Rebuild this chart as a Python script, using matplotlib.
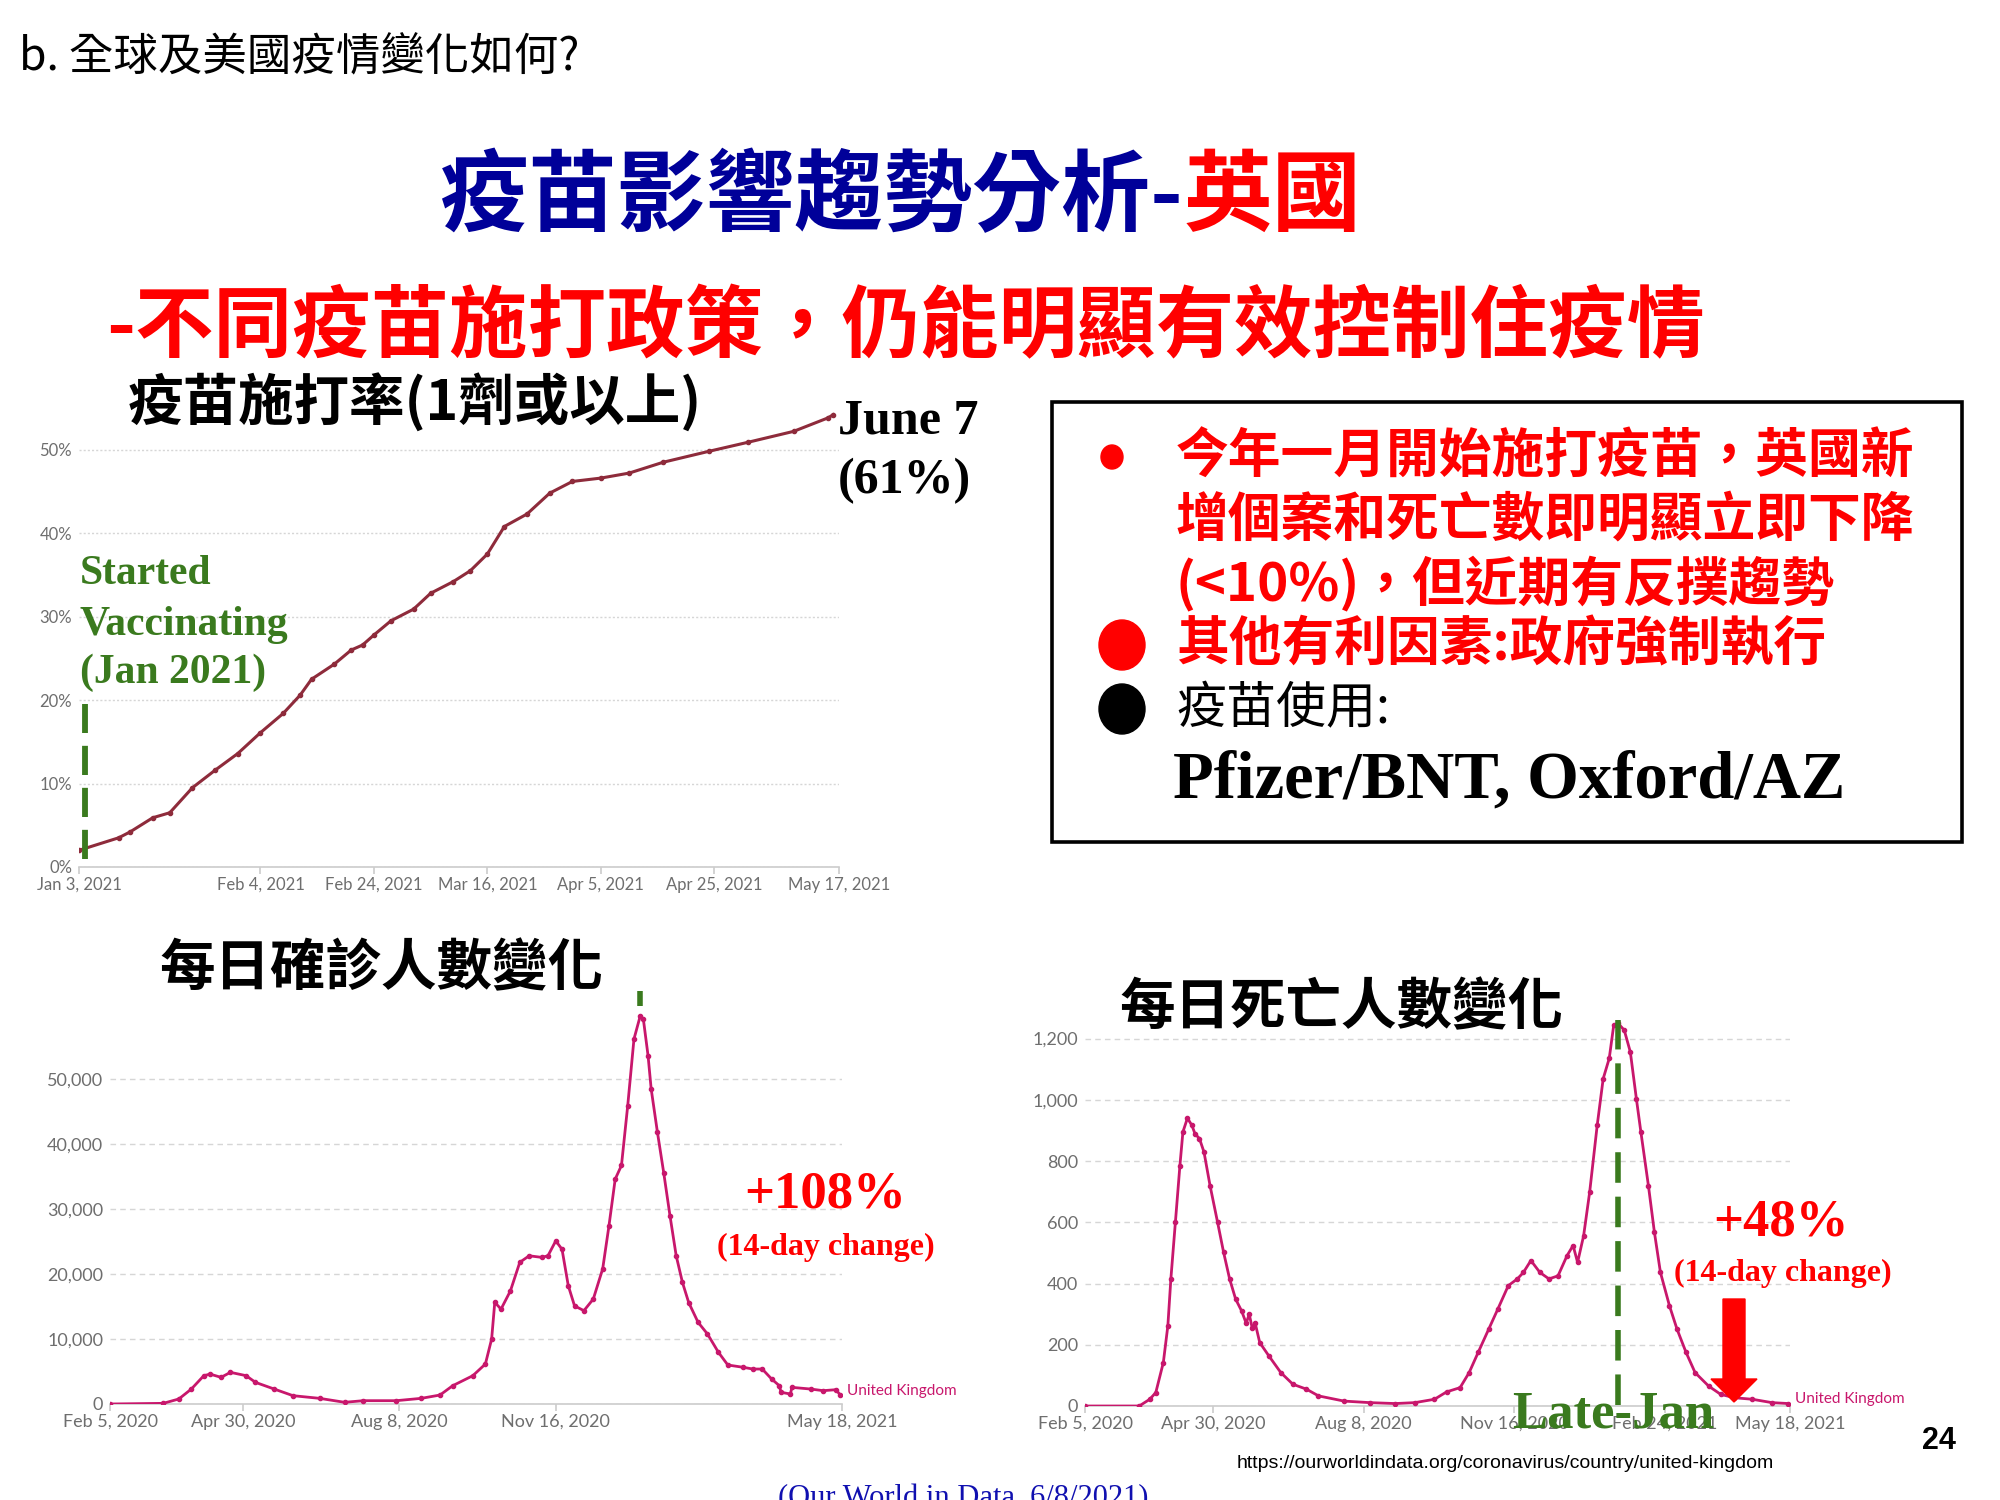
import numpy as np
import matplotlib
matplotlib.use('Agg')
import matplotlib.pyplot as plt
from matplotlib.patches import Rectangle, Ellipse, FancyArrow

plt.rcParams['font.family'] = ['Lato', 'DejaVu Sans']

CJK = ['Noto Sans CJK TC', 'DejaVu Sans']
SERIF = ['Liberation Serif', 'DejaVu Serif']
GREEN = '#3A7A1E'
PINK = '#C8176C'
WINE = '#8E2B3B'
GREY = '#6E6E6E'

# ---- vaccination share, 1+ dose (%) ----
vac_dates = ['2021-01-03', '2021-01-10', '2021-01-12', '2021-01-16', '2021-01-19',
             '2021-01-23', '2021-01-27', '2021-01-31', '2021-02-04', '2021-02-08',
             '2021-02-11', '2021-02-13', '2021-02-17', '2021-02-20', '2021-02-22',
             '2021-02-24', '2021-02-27', '2021-03-03', '2021-03-06', '2021-03-10',
             '2021-03-13', '2021-03-16', '2021-03-19', '2021-03-23', '2021-03-27',
             '2021-03-31', '2021-04-05', '2021-04-10', '2021-04-16', '2021-04-24',
             '2021-05-01', '2021-05-09', '2021-05-15', '2021-05-16']
vac_pct = [2.0, 3.5, 4.2, 5.9, 6.5,
           9.5, 11.6, 13.6, 16.1, 18.4,
           20.6, 22.5, 24.3, 26.0, 26.6,
           27.8, 29.5, 30.9, 32.8, 34.2,
           35.5, 37.5, 40.8, 42.3, 44.8,
           46.2, 46.6, 47.2, 48.5, 49.8,
           50.9, 52.2, 53.8, 54.2]
vac_ticks = ['2021-01-03', '2021-02-04', '2021-02-24', '2021-03-16',
             '2021-04-05', '2021-04-25', '2021-05-17']
vac_tick_labels = ['Jan 3, 2021', 'Feb 4, 2021', 'Feb 24, 2021', 'Mar 16, 2021',
                   'Apr 5, 2021', 'Apr 25, 2021', 'May 17, 2021']

# ---- daily cases (7-day avg), days after 2020-02-05 ----
case_day = [0, 34, 44, 52, 60, 64, 71, 77, 87, 93,
            105, 117, 134, 150, 162, 183, 199, 211, 219, 232,
            240, 244, 246, 250, 256, 262, 268, 276, 280, 285,
            289, 293, 297, 303, 309, 315, 319, 323, 327, 331,
            335, 339, 341, 344, 346, 350, 354, 358, 362, 366,
            370, 376, 382, 389, 395, 405, 411, 417, 423, 428,
            429, 435, 436, 448, 456, 464, 467]
case_val = [0, 100, 770, 2300, 4360, 4600, 4100, 4870, 4360, 3330,
            2300, 1280, 870, 260, 510, 510, 870, 1380, 2800, 4360,
            6150, 10000, 15640, 14600, 17400, 21800, 22800, 22560, 22800, 25100,
            23800, 18200, 15100, 14360, 16150, 20800, 27400, 34600, 36700, 45900,
            56150, 59700, 59200, 53600, 48460, 41800, 35600, 29000, 22800, 18700,
            15600, 12560, 10770, 7950, 6000, 5640, 5380, 5380, 3850, 2800,
            1800, 1540, 2560, 2300, 2050, 2200, 1380]

# ---- daily deaths (7-day avg), days after 2020-02-05 ----
death_day = [0, 36, 43, 47, 52, 55, 57, 60, 63, 65,
             68, 71, 73, 76, 79, 83, 88, 92, 96, 100,
             104, 107, 109, 111, 113, 116, 122, 130, 138, 147,
             155, 172, 189, 206, 219, 232, 240, 249, 255, 261,
             268, 274, 281, 287, 291, 296, 302, 308, 314, 320,
             324, 327, 331, 335, 340, 344, 348, 351, 354, 358,
             362, 366, 369, 374, 378, 382, 388, 393, 399, 405,
             414, 422, 431, 443, 456, 467]
death_val = [0, 0, 22, 44, 142, 262, 415, 600, 785, 895,
             940, 916, 889, 873, 829, 720, 600, 502, 415, 349,
             310, 270, 300, 255, 270, 207, 164, 109, 71, 55,
             33, 16, 11, 8, 11, 22, 46, 60, 109, 175,
             251, 316, 393, 415, 436, 475, 436, 415, 425, 491,
             524, 469, 556, 698, 916, 1069, 1135, 1244, 1249, 1227,
             1156, 1004, 895, 720, 567, 436, 327, 251, 175, 109,
             65, 38, 27, 22, 11, 8]

start_2020 = np.datetime64('2020-02-05')
case_ticks = ['2020-02-05', '2020-04-30', '2020-08-08', '2020-11-16', '2021-05-18']
case_tick_labels = ['Feb 5, 2020', 'Apr 30, 2020', 'Aug 8, 2020', 'Nov 16, 2020', 'May 18, 2021']
death_ticks = ['2020-02-05', '2020-04-30', '2020-08-08', '2020-11-16', '2021-02-24', '2021-05-18']
death_tick_labels = ['Feb 5, 2020', 'Apr 30, 2020', 'Aug 8, 2020', 'Nov 16, 2020',
                     'Feb 24, 2021', 'May 18, 2021']

W, H = 2000, 1500
fig = plt.figure(figsize=(20, 15), dpi=100)


def fx(x):
    return x / W


def fy(y):
    return 1 - y / H


def style_axes(ax, ylim, yticks, ylabels, xticks, xlabels, fs, grid_ls):
    ax.set_ylim(*ylim)
    ax.set_yticks(yticks)
    ax.set_yticklabels(ylabels)
    ax.set_xticks(np.array(xticks, dtype='datetime64[D]'))
    ax.set_xticklabels(xlabels)
    for s in ['top', 'right', 'left']:
        ax.spines[s].set_visible(False)
    ax.spines['bottom'].set_color('#cccccc')
    ax.spines['bottom'].set_linewidth(1.2)
    ax.grid(axis='y', color='#d6d6d6', linestyle=grid_ls, linewidth=1)
    ax.set_axisbelow(True)
    ax.tick_params(axis='y', length=0, pad=5, labelsize=fs, labelcolor=GREY)
    ax.tick_params(axis='x', length=5, width=1.2, color='#cccccc', pad=2,
                   labelsize=fs, labelcolor=GREY)
    ax.patch.set_alpha(0)


# ---------------- chart 1: vaccination ----------------
ax1 = fig.add_axes([fx(79), fy(867), 760 / W, 459 / H])
vd = np.array(vac_dates, dtype='datetime64[D]')
ax1.plot(vd, vac_pct, color=WINE, lw=2.2, marker='o', ms=3, zorder=3)
ax1.set_xlim(np.datetime64('2021-01-03'), np.datetime64('2021-05-17'))
style_axes(ax1, (0, 55), [0, 10, 20, 30, 40, 50], ['0%', '10%', '20%', '30%', '40%', '50%'],
           vac_ticks, vac_tick_labels, 12, (0, (1.5, 1.5)))
ax1.vlines(np.datetime64('2021-01-04'), 1.0, 19.5, colors=GREEN, lw=4.2,
           linestyles=(0, (5, 2.2)), zorder=4)

# ---------------- chart 2: cases ----------------
ax2 = fig.add_axes([fx(110), fy(1404), 732 / W, 403 / H])
cd = start_2020 + np.array(case_day)
ax2.plot(cd, case_val, color=PINK, lw=2, marker='o', ms=3, zorder=3)
ax2.set_xlim(start_2020, np.datetime64('2021-05-18'))
style_axes(ax2, (0, 62000), [0, 10000, 20000, 30000, 40000, 50000],
           ['0', '10,000', '20,000', '30,000', '40,000', '50,000'],
           case_ticks, case_tick_labels, 13, (0, (4, 3)))
ax2.annotate('United Kingdom', xy=(cd[-1], case_val[-1]), xytext=(5, 3),
             textcoords='offset points', color=PINK, fontsize=11, va='center',
             annotation_clip=False)
ax2.vlines(cd[int(np.argmax(case_val))], 61300, 63600, colors=GREEN, lw=4,
           clip_on=False, zorder=4)

# ---------------- chart 3: deaths ----------------
ax3 = fig.add_axes([fx(1085), fy(1406), 705 / W, 392 / H])
dd = start_2020 + np.array(death_day)
ax3.plot(dd, death_val, color=PINK, lw=2, marker='o', ms=3, zorder=3)
ax3.set_xlim(start_2020, np.datetime64('2021-05-18'))
style_axes(ax3, (0, 1280), [0, 200, 400, 600, 800, 1000, 1200],
           ['0', '200', '400', '600', '800', '1,000', '1,200'],
           death_ticks, death_tick_labels, 13, (0, (4, 3)))
ax3.annotate('United Kingdom', xy=(dd[-1], death_val[-1]), xytext=(5, 3),
             textcoords='offset points', color=PINK, fontsize=11, va='center',
             annotation_clip=False)
ax3.vlines(np.datetime64('2021-01-24'), 3, 1262, colors=GREEN, lw=4,
           linestyles=(0, (5.5, 2.5)), zorder=4)

# ---------------- slide texts ----------------
fig.text(fx(19), fy(57), 'b. 全球及美國疫情變化如何?', fontsize=32, family=CJK, va='center')

t1 = fig.text(fx(440), fy(198), '疫苗影響趨勢分析-', fontsize=64, fontweight='bold',
              color='#000099', family=CJK, va='center')
rend = fig.canvas.get_renderer()
bb = t1.get_window_extent(rend)
fig.text(bb.x1 / W, fy(198), '英國', fontsize=64, fontweight='bold', color='red',
         family=CJK, va='center')

fig.text(fx(106), fy(329), '-不同疫苗施打政策，仍能明顯有效控制住疫情', fontsize=56.5,
         fontweight='bold', color='red', family=CJK, va='center')

fig.text(fx(128), fy(402), '疫苗施打率(1劑或以上)', fontsize=40, fontweight='bold',
         family=CJK, va='center')
fig.text(fx(159), fy(969), '每日確診人數變化', fontsize=40, fontweight='bold',
         family=CJK, va='center')
fig.text(fx(1119), fy(1008), '每日死亡人數變化', fontsize=40, fontweight='bold',
         family=CJK, va='center')

fig.text(fx(838), fy(421), 'June 7', fontsize=36, fontweight='bold', family=SERIF, va='center')
fig.text(fx(838), fy(481), '(61%)', fontsize=36, fontweight='bold', family=SERIF, va='center')

for txt, y in [('Started', 574), ('Vaccinating', 625), ('(Jan 2021)', 673)]:
    fig.text(fx(80), fy(y), txt, fontsize=30, fontweight='bold', color=GREEN,
             family=SERIF, va='center')

fig.text(fx(825), fy(1195), '+108%', fontsize=38, fontweight='bold', color='red',
         family=SERIF, ha='center', va='center')
fig.text(fx(826), fy(1247), '(14-day change)', fontsize=23, fontweight='bold', color='red',
         family=SERIF, ha='center', va='center')
fig.text(fx(1781), fy(1222), '+48%', fontsize=38, fontweight='bold', color='red',
         family=SERIF, ha='center', va='center')
fig.text(fx(1783), fy(1273), '(14-day change)', fontsize=23, fontweight='bold', color='red',
         family=SERIF, ha='center', va='center')
fig.text(fx(1613), fy(1415), 'Late-Jan', fontsize=38, fontweight='bold', color=GREEN,
         family=SERIF, ha='center', va='center', zorder=10)

fig.patches.append(FancyArrow(17.34, (H - 1299) / 100, 0, -1.03, width=0.22,
                              head_width=0.46, head_length=0.23, length_includes_head=True,
                              color='red', transform=fig.dpi_scale_trans, figure=fig))

# ---------------- text box ----------------
fig.patches.append(Rectangle((fx(1052), fy(842)), 910 / W, 440 / H, fill=False,
                             edgecolor='black', lw=2.6, transform=fig.transFigure, figure=fig))
box_lines = [('今年一月開始施打疫苗，英國新', 457),
             ('增個案和死亡數即明顯立即下降', 520),
             ('(<10%)，但近期有反撲趨勢', 583),
             ('其他有利因素:政府強制執行', 645)]
for txt, y in box_lines:
    fig.text(fx(1176), fy(y), txt, fontsize=38, fontweight='bold', color='red',
             family=CJK, va='center')
fig.text(fx(1176), fy(709), '疫苗使用:', fontsize=36, family=CJK, va='center')
fig.text(fx(1173), fy(781), 'Pfizer/BNT, Oxford/AZ', fontsize=48, fontweight='bold',
         family=SERIF, va='center')

for cx, cy, w, h, c in [(1112, 457, 22, 24, 'red'), (1122, 645, 46, 50, 'red'),
                        (1122, 709, 46, 50, 'black')]:
    fig.patches.append(Ellipse((cx / 100, (H - cy) / 100), w / 100, h / 100, color=c,
                               transform=fig.dpi_scale_trans, figure=fig))

# ---------------- footer ----------------
fig.text(fx(1939), fy(1441), '24', fontsize=22, fontweight='bold',
         family=['Liberation Sans', 'DejaVu Sans'], ha='center', va='center')
fig.text(fx(1505), fy(1464), 'https://ourworldindata.org/coronavirus/country/united-kingdom',
         fontsize=14, family=['Liberation Sans', 'DejaVu Sans'], ha='center', va='center')
fig.text(fx(963), fy(1484), '(Our World in Data, 6/8/2021)', fontsize=22, color='#1010B0',
         family=SERIF, ha='center', va='top')

fig.savefig('out.png', dpi=100)
